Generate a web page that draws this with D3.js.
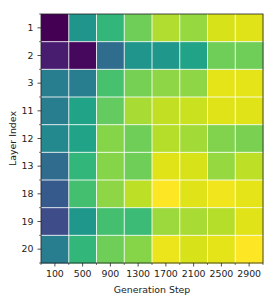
<!DOCTYPE html>
<html>
<head>
<meta charset="utf-8">
<script src="https://cdn.jsdelivr.net/npm/d3@7"></script>
<style>
  body { margin: 0; background: #fff; }
  svg { display: block; font-family: "DejaVu Sans", sans-serif; }
</style>
</head>
<body>
<script>
const steps  = [100, 500, 900, 1300, 1700, 2100, 2500, 2900]
const layers = [1, 2, 3, 11, 12, 13, 18, 19, 20]

// colour position on the viridis scale, one row per layer
const values = [
    [0.00, 0.52, 0.66, 0.78, 0.88, 0.84, 0.94, 0.95],
    [0.08, 0.02, 0.35, 0.52, 0.53, 0.58, 0.78, 0.78],
    [0.42, 0.42, 0.71, 0.79, 0.83, 0.83, 0.96, 0.96],
    [0.42, 0.58, 0.76, 0.87, 0.91, 0.92, 0.95, 0.95],
    [0.47, 0.58, 0.82, 0.78, 0.89, 0.86, 0.81, 0.80],
    [0.35, 0.66, 0.82, 0.78, 0.95, 0.94, 0.84, 0.90],
    [0.28, 0.70, 0.83, 0.90, 1.00, 0.95, 0.98, 0.96],
    [0.23, 0.53, 0.70, 0.68, 0.85, 0.87, 0.89, 0.95],
    [0.42, 0.66, 0.78, 0.82, 0.97, 0.94, 0.96, 1.00]
]

const width = 274, height = 308
const margin = {top: 14, right: 11, bottom: 45, left: 41}
const w = width - margin.left - margin.right,
      h = height - margin.top - margin.bottom

const svg = d3.select("body").append("svg")
    .attr("width", width)
    .attr("height", height)

const g = svg.append("g")
    .attr("transform", `translate(${margin.left},${margin.top})`)

const x = d3.scaleBand().domain(steps).range([0, w])
const y = d3.scaleBand().domain(layers).range([0, h])
const color = d3.scaleSequential(d3.interpolateViridis).domain([0, 1])

const cells = []
values.forEach((row, i) => row.forEach((v, j) => cells.push({layer: layers[i], step: steps[j], v: v})))

g.append("g")
    .selectAll("rect")
    .data(cells)
    .enter()
    .append("rect")
        .attr("x", d => x(d.step))
        .attr("y", d => y(d.layer))
        .attr("width", x.bandwidth() + 0.5)
        .attr("height", y.bandwidth() + 0.5)
        .attr("fill", d => color(d.v))

// white grid on the cell borders
const grid = g.append("g").attr("stroke", "#fff").attr("stroke-opacity", 0.85).attr("stroke-width", 1)
steps.slice(1).forEach(s => {
    grid.append("line").attr("x1", x(s)).attr("x2", x(s)).attr("y1", 0).attr("y2", h)
})
layers.slice(1).forEach(l => {
    grid.append("line").attr("y1", y(l)).attr("y2", y(l)).attr("x1", 0).attr("x2", w)
})

// frame
g.append("rect")
    .attr("width", w).attr("height", h)
    .attr("fill", "none").attr("stroke", "#222").attr("stroke-width", 0.8)

// major ticks at cell centres
const xAxis = g.append("g")
    .attr("transform", `translate(0,${h})`)
    .call(d3.axisBottom(x).tickSizeOuter(0).tickSize(3.5).tickPadding(4))
const yAxis = g.append("g")
    .call(d3.axisLeft(y).tickSizeOuter(0).tickSize(3.5).tickPadding(4))

;[xAxis, yAxis].forEach(a => {
    a.select(".domain").remove()
    a.selectAll("line").attr("stroke", "#222").attr("stroke-width", 0.8)
    a.selectAll("text").attr("font-size", 9.4).attr("fill", "#222")
        .attr("font-family", "DejaVu Sans")
})

// minor ticks on the borders
const minorX = d3.range(steps.length + 1).map(i => i * x.step())
const minorY = d3.range(layers.length + 1).map(i => i * y.step())
g.append("g").selectAll("line").data(minorX).enter().append("line")
    .attr("x1", d => d).attr("x2", d => d).attr("y1", h).attr("y2", h + 2)
    .attr("stroke", "#222").attr("stroke-width", 0.6)
g.append("g").selectAll("line").data(minorY).enter().append("line")
    .attr("y1", d => d).attr("y2", d => d).attr("x1", 0).attr("x2", -2)
    .attr("stroke", "#222").attr("stroke-width", 0.6)

svg.append("text")
    .attr("x", margin.left + w / 2)
    .attr("y", 293)
    .attr("text-anchor", "middle")
    .attr("font-size", 9.4)
    .attr("fill", "#222")
    .text("Generation Step")

svg.append("text")
    .attr("transform", `translate(16,${margin.top + h / 2}) rotate(-90)`)
    .attr("text-anchor", "middle")
    .attr("font-size", 9.4)
    .attr("fill", "#222")
    .text("Layer Index")
</script>
</body>
</html>
